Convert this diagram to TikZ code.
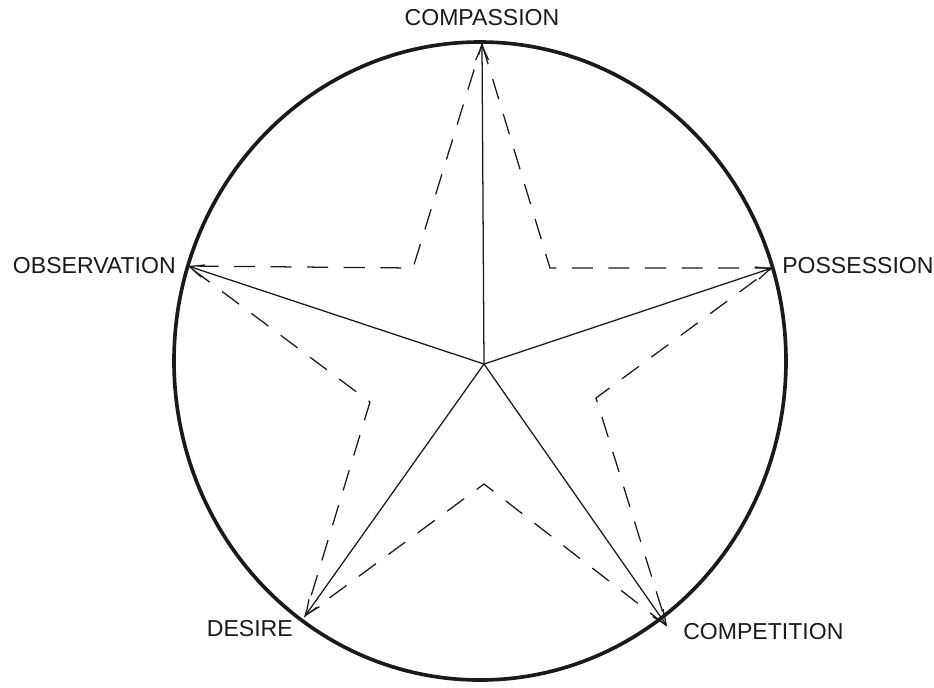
\documentclass[tikz,border=0pt]{standalone}
\usepackage{fontspec}
\setmainfont{Liberation Sans}
\usepackage{tikz}
\usetikzlibrary{arrows.meta}
\definecolor{inkmain}{HTML}{1A1A1A}
\tikzset{every node/.append style={font=\fontsize{16.4}{19}\selectfont,text=inkmain,inner sep=0pt}}
\tikzset{
  spoke/.style={->,inkmain,line width=0.9pt},
  dashline/.style={inkmain,line width=0.9pt,dash pattern=on 15pt off 11pt},
}

\begin{document}
\begin{tikzpicture}[x=0.025cm,y=-0.025cm,>={Straight Barb[length=3.6mm,width=3.2mm]}]
  \useasboundingbox (0,0) rectangle (934,687);
  % outer circle
  \draw[inkmain,line width=2.6pt] (480,361) ellipse [x radius=306, y radius=319];
  % centre and star points
  \coordinate (O) at (484,364);
  \coordinate (top) at (482,44);
  \coordinate (right) at (772,268);
  \coordinate (lowright) at (667,626);
  \coordinate (lowleft) at (305,616);
  \coordinate (left) at (188,266);
  % inner points of the dashed star
  \coordinate (i1) at (550,268);
  \coordinate (i2) at (596,398);
  \coordinate (i3) at (484,484);
  \coordinate (i4) at (370,402);
  \coordinate (i5) at (413,268);
  \draw[dashline] (top)--(i1)--(right)--(i2)--(lowright)--(i3)--(lowleft)--(i4)--(left)--(i5)--cycle;
  % spokes
  \foreach \p in {top,right,lowright,lowleft,left}
    \draw[spoke] (O)--(\p);
  % labels
  \node (compassion) at (482,18) {COMPASSION};
  \node[anchor=east] (observation) at (176,266) {OBSERVATION};
  \node[anchor=west] (possession) at (782,266) {POSSESSION};
  \node[anchor=east] (desire) at (293,629) {DESIRE};
  \node[anchor=west] (competition) at (683,632) {COMPETITION};
\end{tikzpicture}
\end{document}
